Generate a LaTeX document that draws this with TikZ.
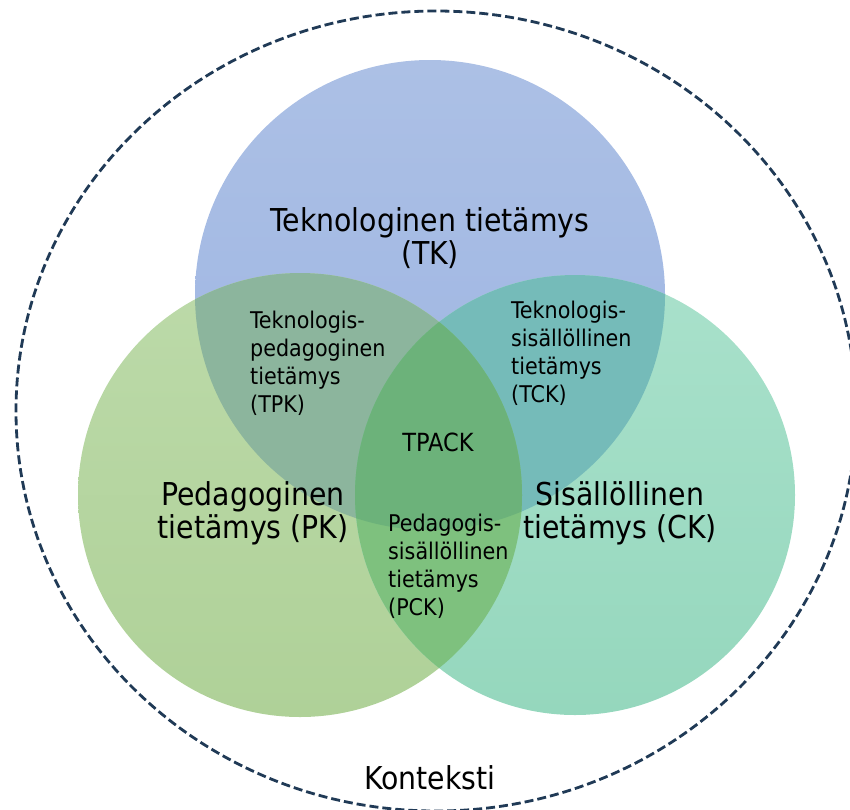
\documentclass[tikz,border=0pt]{standalone}
\usepackage{fontspec}
\setmainfont{DejaVu Sans Condensed}
\definecolor{tkTop}{HTML}{ACC0E5}
\definecolor{tkBot}{HTML}{9CB4E2}
\definecolor{pkTop}{HTML}{BCDAA9}
\definecolor{pkBot}{HTML}{AFD198}
\definecolor{ckTop}{HTML}{A9E1CB}
\definecolor{ckBot}{HTML}{95D7BD}
\definecolor{tpkFill}{HTML}{8CB59D}
\definecolor{tckFill}{HTML}{75BBB9}
\definecolor{pckFill}{HTML}{7EC17E}
\definecolor{tpackFill}{HTML}{6CB27A}
\definecolor{contextLine}{HTML}{203A56}

\begin{document}
\begin{tikzpicture}[x=1pt,y=-1pt,
  bigLabel/.style={font=\fontsize{31.5}{33}\selectfont, inner sep=0pt, align=center, anchor=base},
  smallLabel/.style={font=\fontsize{23}{27.8}\selectfont, inner sep=0pt, align=left, anchor=base west}]
\useasboundingbox (0,0) rectangle (850,809);
\def\tkpath{(430,295) circle (235)}
\def\pkpath{(300,495) circle (222)}
\def\ckpath{(575,495) circle (220)}
\draw[contextLine, line width=2.8pt, dash pattern=on 9pt off 4pt] (436,411) ellipse [x radius=420, y radius=400];
\shade[top color=tkTop, bottom color=tkBot] \tkpath;
\shade[top color=pkTop, bottom color=pkBot] \pkpath;
\shade[top color=ckTop, bottom color=ckBot] \ckpath;
\begin{scope}
\clip \tkpath;
\fill[tpkFill] \pkpath;
\fill[tckFill] \ckpath;
\end{scope}
\begin{scope}
\clip \pkpath;
\fill[pckFill] \ckpath;
\end{scope}
\begin{scope}
\clip \tkpath;
\clip \pkpath;
\fill[tpackFill] \ckpath;
\end{scope}
\node[bigLabel] (tk) at (430,264) {Teknologinen tietämys\\(TK)};
\node[bigLabel] (pk) at (253,538) {Pedagoginen\\tietämys (PK)};
\node[bigLabel] (ck) at (620,538) {Sisällöllinen\\tietämys (CK)};
\node[smallLabel] (tpk) at (250,412) {Teknologis-\\pedagoginen\\tietämys\\(TPK)};
\node[smallLabel] (tck) at (511,402) {Teknologis-\\sisällöllinen\\tietämys\\(TCK)};
\node[smallLabel] (pck) at (388,615) {Pedagogis-\\sisällöllinen\\tietämys\\(PCK)};
\node[font=\fontsize{25}{30}\selectfont, inner sep=0pt, anchor=base] (tpack) at (438,451) {TPACK};
\node[font=\fontsize{31.5}{33}\selectfont, inner sep=0pt, anchor=base] (context) at (430,789) {Konteksti};
\end{tikzpicture}
\end{document}
